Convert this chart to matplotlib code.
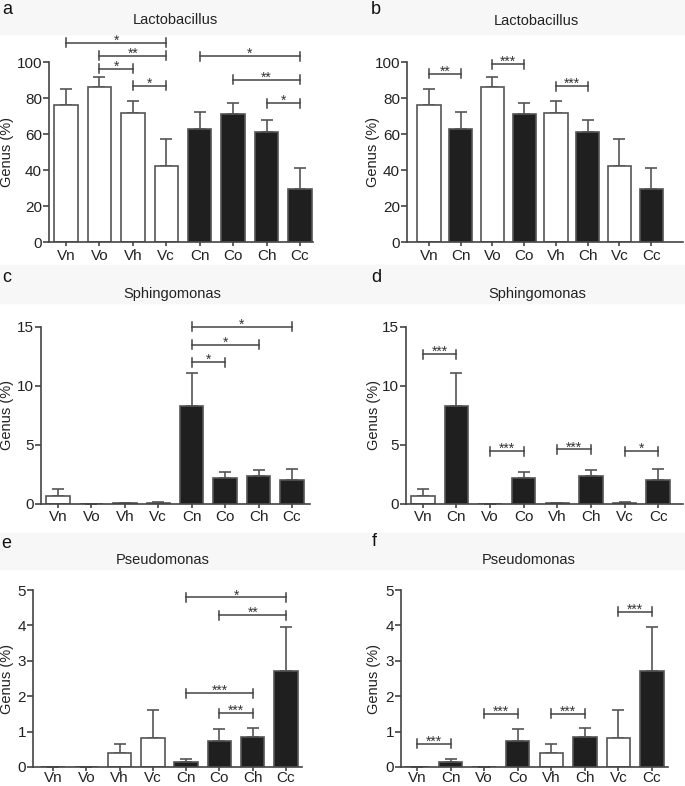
import matplotlib
matplotlib.use('Agg')
import matplotlib.pyplot as plt
import matplotlib.transforms as mtransforms
from matplotlib.patches import Rectangle
import numpy as np

plt.rcParams['font.family'] = ['Liberation Sans', 'DejaVu Sans']

# group names, first order is the one used in a, c, e
groups = ['Vn', 'Vo', 'Vh', 'Vc', 'Cn', 'Co', 'Ch', 'Cc']
pairedOrder = ['Vn', 'Cn', 'Vo', 'Co', 'Vh', 'Ch', 'Vc', 'Cc']

# mean and upper error (SEM), in %
lactoMean = [76.2, 86.1, 71.6, 42.5, 62.7, 71.2, 61.0, 29.7]
lactoErr = [9.0, 5.6, 6.7, 14.6, 9.5, 6.0, 6.7, 11.5]
sphingoMean = [0.70, 0.02, 0.05, 0.12, 8.29, 2.17, 2.40, 2.00]
sphingoErr = [0.60, 0.01, 0.03, 0.05, 2.85, 0.56, 0.50, 0.96]
pseudoMean = [0.01, 0.01, 0.385, 0.82, 0.14, 0.74, 0.855, 2.72]
pseudoErr = [0.0, 0.0, 0.265, 0.80, 0.09, 0.34, 0.235, 1.24]

# significance brackets: (group1, group2, height, stars)
lactoBracketsA = [('Vn', 'Vc', 110.6, '*'), ('Vo', 'Vc', 103.5, '**'), ('Vo', 'Vh', 96.3, '*'),
                  ('Vh', 'Vc', 86.8, '*'), ('Cn', 'Cc', 103.2, '*'), ('Co', 'Cc', 90.2, '**'),
                  ('Ch', 'Cc', 77.2, '*')]
lactoBracketsB = [('Vn', 'Cn', 93.5, '**'), ('Vo', 'Co', 98.7, '***'), ('Vh', 'Ch', 86.6, '***')]
sphingoBracketsC = [('Cn', 'Cc', 15.0, '*'), ('Cn', 'Ch', 13.5, '*'), ('Cn', 'Co', 12.0, '*')]
sphingoBracketsD = [('Vn', 'Cn', 12.7, '***'), ('Vo', 'Co', 4.48, '***'), ('Vh', 'Ch', 4.62, '***'),
                    ('Vc', 'Cc', 4.48, '*')]
pseudoBracketsE = [('Cn', 'Cc', 4.79, '*'), ('Co', 'Cc', 4.29, '**'), ('Cn', 'Ch', 2.08, '***'),
                   ('Co', 'Ch', 1.52, '***')]
pseudoBracketsF = [('Vn', 'Cn', 0.65, '***'), ('Vo', 'Co', 1.51, '***'), ('Vh', 'Ch', 1.51, '***'),
                   ('Vc', 'Cc', 4.38, '***')]

figW, figH = 685, 786
fig = plt.figure(figsize=(figW / 100, figH / 100), dpi=100)

lineColor = '#444444'
edgeColor = '#555555'
darkFill = '#1f1f1f'

# faint grey bands behind the titles
for yTop, yBot in [(0, 34), (265, 303), (533, 569)]:
    fig.patches.append(Rectangle((0, 1 - yBot / figH), 1, (yBot - yTop) / figH,
                                 transform=fig.transFigure, color='#f7f7f7', zorder=0))


def drawPanel(left, right, y0, top, spineTopPx, spineMax, yStep, xlim, order, means, errs,
              brackets, title, titleXY, letter, letterXY, labelRightPx, barWidth=0.7, xPad=2):
    ax = fig.add_axes([left / figW, 1 - y0 / figH, (right - left) / figW, (y0 - top) / figH])
    ax.patch.set_alpha(0)
    pxPerUnit = (y0 - spineTopPx) / spineMax
    yMax = (y0 - top) / pxPerUnit
    idx = [groups.index(g) for g in order]
    m = np.array([means[i] for i in idx])
    e = np.array([errs[i] for i in idx])
    x = np.arange(len(order))
    fills = ['white' if g.startswith('V') else darkFill for g in order]

    ax.errorbar(x, m, yerr=[np.zeros_like(e), e], fmt='none', ecolor=edgeColor,
                elinewidth=1.2, capsize=4, capthick=1.2, zorder=1)
    ax.bar(x, m, width=barWidth, color=fills, edgecolor=edgeColor, linewidth=1.2, zorder=2)

    ax.set_xlim(*xlim)
    ax.set_ylim(0, yMax)
    ax.spines['top'].set_visible(False)
    ax.spines['right'].set_visible(False)
    ax.spines['left'].set_bounds(0, spineMax)
    for s in ['left', 'bottom']:
        ax.spines[s].set_color(lineColor)
        ax.spines[s].set_linewidth(1.2)
    ax.set_yticks(np.arange(0, spineMax + yStep / 2, yStep))
    ax.set_xticks(x)
    ax.set_xticklabels(order)
    ax.tick_params(axis='both', colors=lineColor, labelcolor='#222222', labelsize=11,
                   width=1.2, direction='out')
    ax.tick_params(axis='y', length=4, pad=1)
    ax.tick_params(axis='x', length=3, pad=xPad)

    # y label centred on the drawn part of the spine, right edge at labelRightPx
    trans = mtransforms.blended_transform_factory(ax.transAxes, ax.transData)
    ax.set_ylabel('Genus (%)', fontsize=10.5, color='#222222')
    ax.yaxis.set_label_coords((labelRightPx - left) / (right - left), spineMax / 2, transform=trans)

    # brackets with stars
    tickH = 4.5 / pxPerUnit
    for g1, g2, yv, lab in brackets:
        x1, x2 = order.index(g1), order.index(g2)
        ax.plot([x1, x2], [yv, yv], color=lineColor, lw=1.1, clip_on=False, zorder=3)
        for xx in (x1, x2):
            ax.plot([xx, xx], [yv - tickH, yv + tickH], color=lineColor, lw=1.1,
                    clip_on=False, zorder=3)
        ax.annotate(lab, xy=((x1 + x2) / 2, yv), xytext=(0, -3.5), textcoords='offset points',
                    ha='center', va='bottom', fontsize=10, color='#333333', annotation_clip=False)

    fig.text(titleXY[0] / figW, 1 - titleXY[1] / figH, title, ha='center', va='center',
             fontsize=10.5, color='#222222')
    fig.text(letterXY[0] / figW, 1 - letterXY[1] / figH, letter, ha='left', va='center',
             fontsize=13, color='#111111')
    return ax


drawPanel(49, 313, 242, 35, 62, 100, 20, (-0.51, 7.39), groups, lactoMean, lactoErr,
          lactoBracketsA, 'Lactobacillus', (175, 20), 'a', (2, 10), 14)
drawPanel(407, 683, 242, 35, 62, 100, 20, (-0.69, 8.0), pairedOrder, lactoMean, lactoErr,
          lactoBracketsB, 'Lactobacillus', (536, 21), 'b', (371, 9), 380, barWidth=0.73)
drawPanel(41, 310, 504, 315, 327, 15, 5, (-0.51, 7.54), groups, sphingoMean, sphingoErr,
          sphingoBracketsC, 'Sphingomonas', (172, 294), 'c', (2, 278), 14, xPad=1)
drawPanel(406, 683, 504, 315, 327, 15, 5, (-0.5, 7.74), pairedOrder, sphingoMean, sphingoErr,
          sphingoBracketsD, 'Sphingomonas', (537, 294), 'd', (371, 277), 381, xPad=1)
drawPanel(33, 302, 767, 585, 590, 5, 1, (-0.6, 7.48), groups, pseudoMean, pseudoErr,
          pseudoBracketsE, 'Pseudomonas', (163, 560), 'e', (1, 543), 14, xPad=0)
drawPanel(401, 668, 767, 585, 590, 5, 1, (-0.48, 7.48), pairedOrder, pseudoMean, pseudoErr,
          pseudoBracketsF, 'Pseudomonas', (529, 560), 'f', (372, 542), 381, xPad=0)

fig.savefig('out.png', dpi=100)
